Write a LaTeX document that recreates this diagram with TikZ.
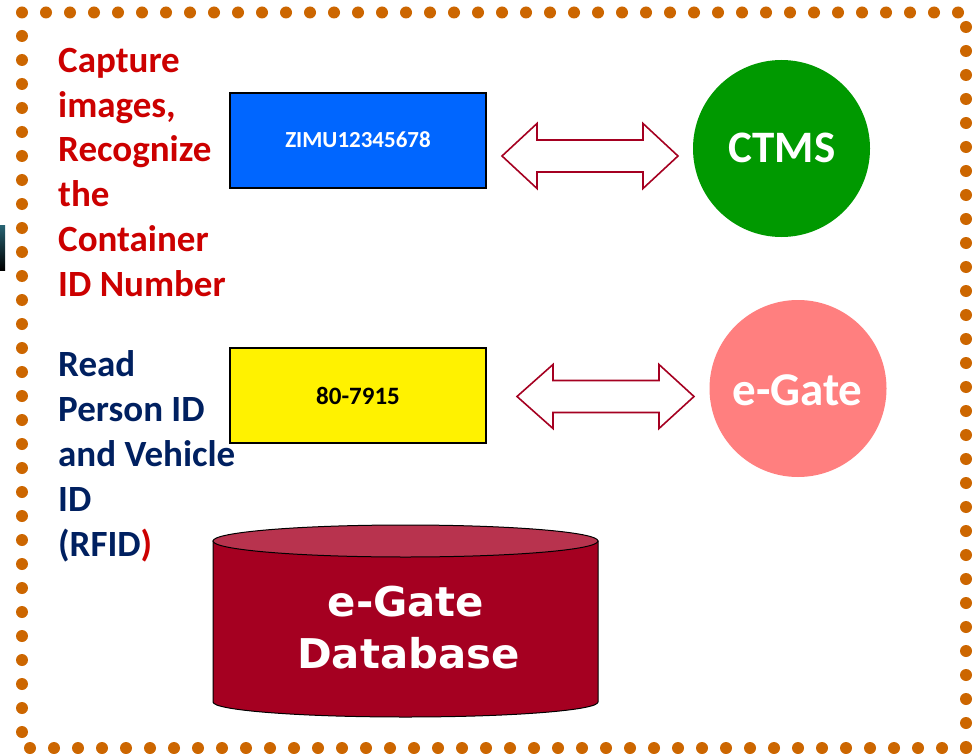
\documentclass[tikz,border=0pt]{standalone}
\usepackage{fontspec}
\usepackage{graphicx}
\setmainfont{Carlito}
\newfontfamily\dbfont{DejaVu Sans}
\definecolor{dotc}{HTML}{CC6600}
\definecolor{redtxt}{HTML}{CC0000}
\definecolor{navytxt}{HTML}{002060}
\definecolor{boxblue}{HTML}{0066FF}
\definecolor{arrowc}{HTML}{A50021}
\definecolor{ctmsg}{HTML}{009900}
\definecolor{pinkc}{HTML}{FF7F7F}
\definecolor{dbfill}{HTML}{A50021}
\definecolor{dbtop}{HTML}{B8334E}
\tikzset{
  dotmark/.style={fill=dotc, draw=none},
  redline/.style={anchor=base west, inner sep=0pt, text=redtxt, font=\fontsize{37}{44}\selectfont\bfseries},
  navyline/.style={anchor=base west, inner sep=0pt, text=navytxt, font=\fontsize{37}{44}\selectfont\bfseries},
  idbox/.style={draw=black, line width=2pt, minimum width=256pt, minimum height=95pt, inner sep=0pt},
  idtext/.style={anchor=base, inner sep=0pt, font=\fontsize{23}{28}\selectfont\bfseries},
  bigarrow/.style={draw=arrowc, line width=1.6pt, fill=white, line join=miter},
  circtext/.style={anchor=base, inner sep=0pt, text=white, font=\fontsize{45}{50}\selectfont\bfseries},
  dbtext/.style={anchor=base, inner sep=0pt, text=white, font=\fontsize{41}{44}\selectfont\dbfont\bfseries}
}
\begin{document}
\begin{tikzpicture}[x=1pt,y=-1pt]
\useasboundingbox (0,0) rectangle (976,754);
\fill[white] (0,0) rectangle (976,754);
% small dark fragment at left edge
\shade[top color={rgb,255:red,40;green,100;blue,115}, bottom color=black] (0,225) rectangle (5,270);
% dotted border
\foreach \k in {0,...,39} {\fill[dotmark] (22+24*\k,12.5) circle (6);}
\foreach \k in {0,...,30} {\fill[dotmark] (966,27+24*\k) circle (6);}
\foreach \k in {0,...,39} {\fill[dotmark] (30+24*\k,748) circle (6);}
\foreach \k in {0,...,29} {\fill[dotmark] (22,36+24*\k) circle (6);}
% red text
\node[redline] (r1) at (58,72.7) {Capture};
\node[redline] (r2) at (58,117.3) {images,};
\node[redline] (r3) at (58,162) {Recognize};
\node[redline] (r4) at (58,206.6) {the};
\node[redline] (r5) at (58,251.3) {Container};
\node[redline] (r6) at (58,296) {ID Number};
% navy text
\node[navyline] (b1) at (58,376.7) {Read};
\node[navyline] (b2) at (58,421.7) {Person ID};
\node[navyline] (b3) at (58,466.7) {and Vehicle};
\node[navyline] (b4) at (58,511.7) {ID};
\node[navyline] (b5) at (58,556.5) {(RFID\textcolor{redtxt}{)}};
% boxes
\node[idbox, fill=boxblue] (zbox) at (358,140.5) {};
\node[idtext, text=white] (ztext) at (358,148) {ZIMU12345678};
\node[idbox, fill=yellow] (ybox) at (358,395) {};
\node[idtext, text=black, font=\fontsize{25}{28}\selectfont\bfseries] (ytext) at (358,404) {80-7915};
% circles
\node[circle, fill=ctmsg, minimum size=177pt, inner sep=0pt] (ctms) at (781.5,148.5) {};
\node[circtext] (ctmst) at (782,163) {CTMS};
\node[circle, fill=pinkc, minimum size=177pt, inner sep=0pt] (egate) at (798,388.5) {};
\node[circtext, font=\fontsize{47}{50}\selectfont\bfseries] (egatet) at (797.5,405) {e-Gate};
% double arrows
\draw[bigarrow] (502,156) -- (537,123.5) -- (537,140) -- (643,140) -- (643,123.5) -- (678,156)
  -- (643,188.5) -- (643,172) -- (537,172) -- (537,188.5) -- cycle;
\draw[bigarrow] (517,396.5) -- (553,364.5) -- (553,380.5) -- (659,380.5) -- (659,364.5) -- (694,396.5)
  -- (659,428.5) -- (659,412.5) -- (553,412.5) -- (553,428.5) -- cycle;
% database cylinder
\draw[fill=dbfill, line width=1pt] (213,541) -- (213,702) arc[start angle=180, end angle=0, x radius=192.5, y radius=15] -- (598,541) -- cycle;
\draw[fill=dbtop, line width=1pt] (405.5,541) ellipse[x radius=192.5, y radius=16];
\node[dbtext] (db1) at (406,616) {\scalebox{1.02}[1]{e-Gate}};
\node[dbtext] (db2) at (408.5,668) {\scalebox{1.02}[1]{Database}};
\end{tikzpicture}
\end{document}
